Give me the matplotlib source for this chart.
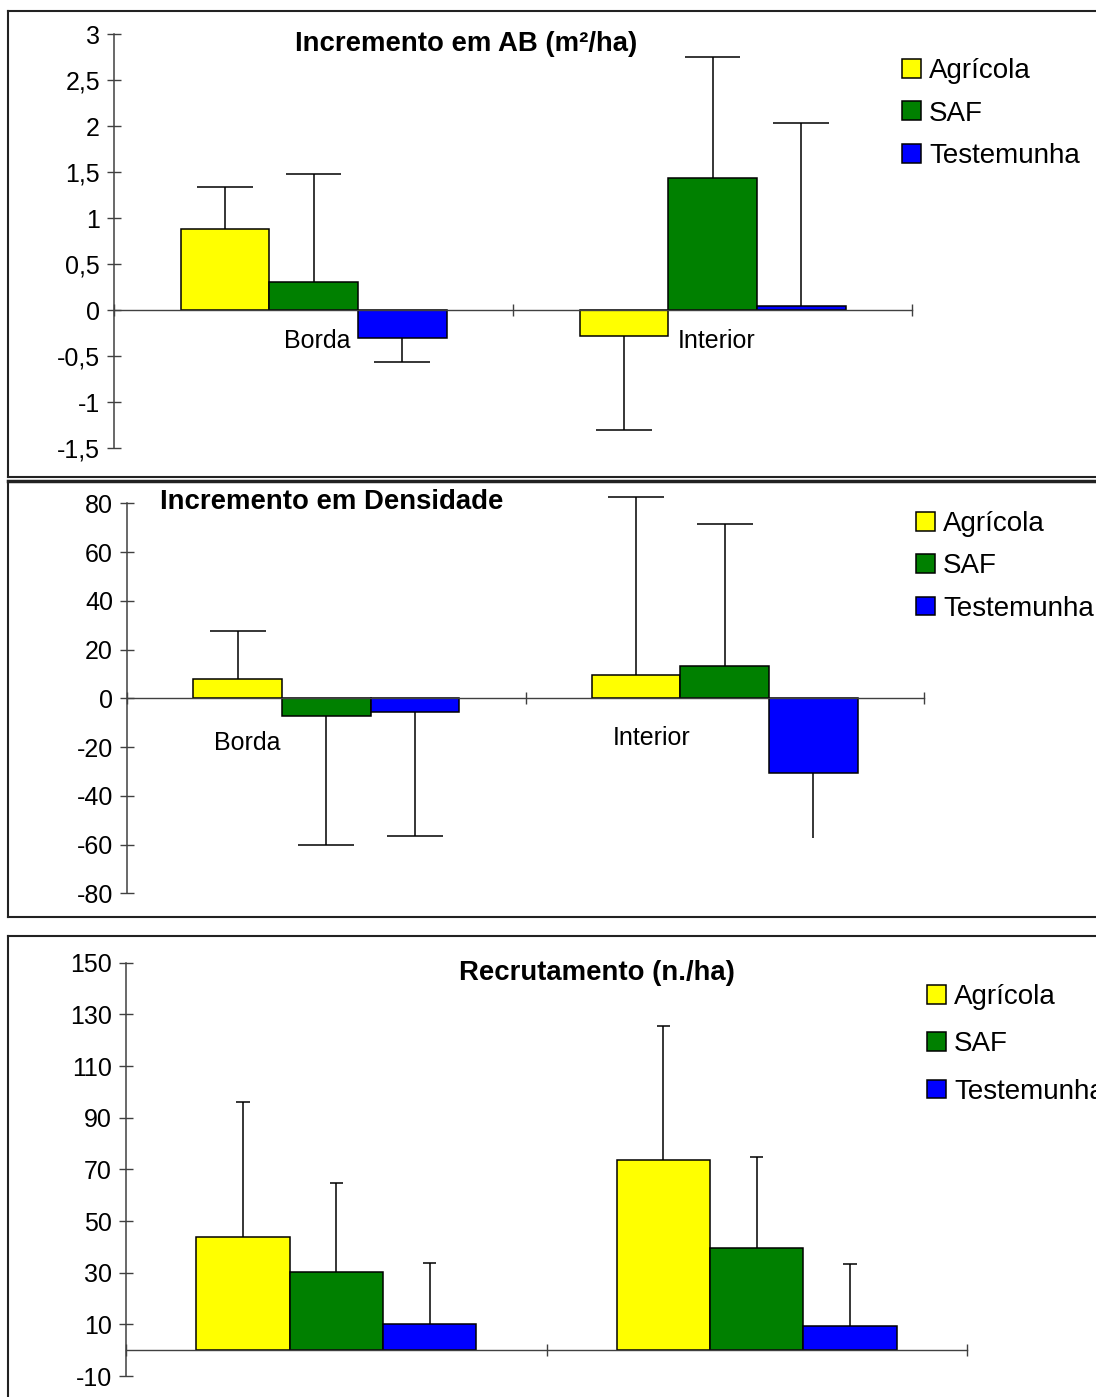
import matplotlib
matplotlib.use("Agg")
import matplotlib.pyplot as plt
from matplotlib.lines import Line2D
from matplotlib.patches import Patch
from matplotlib.ticker import FuncFormatter

plt.rcParams['font.family'] = ['Liberation Sans', 'DejaVu Sans']

W, H = 1096, 1397
DPI = 100

# dados
series = ["Agrícola", "SAF", "Testemunha"]
colors = ["#FFFF00", "#008000", "#0000FF"]
categories = ["Borda", "Interior"]

# Incremento em AB (m²/ha): [série][categoria]
ab_mean = [[0.88, -0.28], [0.30, 1.43], [-0.30, 0.04]]
ab_err = [[0.46, 1.02], [1.18, 1.32], [0.27, 1.99]]

# Incremento em Densidade
dens_mean = [[8.0, 9.7], [-7.3, 13.4], [-5.5, -30.5]]
dens_err = [[19.5, 73.0], [53.0, 58.0], [51.0, 27.0]]

# Recrutamento (n./ha)
rec_mean = [[44.0, 73.6], [30.2, 39.6], [10.1, 9.4]]
rec_err = [[52.0, 52.0], [34.4, 35.1], [23.8, 24.0]]

ab_ticks = [-1.5, -1, -0.5, 0, 0.5, 1, 1.5, 2, 2.5, 3]
dens_ticks = [-80, -60, -40, -20, 0, 20, 40, 60, 80]
rec_ticks = [-10, 10, 30, 50, 70, 90, 110, 130, 150]


def fx(px):
    return px / W


def fy(py):
    return 1 - py / H


def comma(v, pos):
    return f"{v:g}".replace(".", ",")


def frame(fig, top, bottom, lw_top=1.5):
    kw = dict(color="#222222", transform=fig.transFigure)
    fig.add_artist(Line2D([fx(8), fx(8)], [fy(top), fy(bottom)], lw=1.5, **kw))
    fig.add_artist(Line2D([fx(8), 1.0], [fy(top), fy(top)], lw=lw_top, **kw))
    if bottom < H:
        fig.add_artist(Line2D([fx(8), 1.0], [fy(bottom), fy(bottom)], lw=1.5, **kw))


def panel(fig, box, means, errs, ylim, ticks, cap_hw, title, title_xy,
          legend_xy, legend_gap, cat_xy=None, nocap=()):
    x0, x1, ytop, ybot = box
    ax = fig.add_axes([fx(x0), fy(ybot), fx(x1) - fx(x0), fy(ytop) - fy(ybot)])
    ax.set_xlim(0, 2)
    ax.set_ylim(*ylim)
    ax.patch.set_alpha(0)

    bw = 1 / 4.5
    for i, (m, e) in enumerate(zip(means, errs)):
        xs = [0.5 + (i - 1) * bw, 1.5 + (i - 1) * bw]
        ax.bar(xs, m, width=bw, color=colors[i], edgecolor="black",
               linewidth=1.1, zorder=2, label=series[i])
        for j, (x, v, err) in enumerate(zip(xs, m, e)):
            end = v + err if v >= 0 else v - err
            ax.vlines(x, v, end, color="black", lw=1.1, zorder=3, clip_on=False)
            if (i, j) not in nocap:
                ax.hlines(end, x - cap_hw, x + cap_hw, color="black", lw=1.1,
                          zorder=3, clip_on=False)

    for s in ["top", "right"]:
        ax.spines[s].set_visible(False)
    ax.spines["left"].set_color("#404040")
    ax.spines["left"].set_linewidth(1.1)
    ax.spines["bottom"].set_position(("data", 0))
    ax.spines["bottom"].set_color("#404040")
    ax.spines["bottom"].set_linewidth(1.0)
    ax.set_yticks(ticks)
    ax.yaxis.set_major_formatter(FuncFormatter(comma))
    ax.tick_params(axis="y", direction="inout", length=10, width=1,
                   color="#404040", labelsize=18, pad=5)
    ax.set_xticks([0, 1, 2])
    ax.tick_params(axis="x", direction="inout", length=9, width=1,
                   color="#404040", labelbottom=False)

    fig.text(fx(title_xy[0]), fy(title_xy[1]), title, ha="center", va="center",
             fontsize=19.8, fontweight="bold")
    if cat_xy:
        for name, (cx, cy) in zip(categories, cat_xy):
            fig.text(fx(cx), fy(cy), name, ha="center", va="center", fontsize=18)

    handles = [Patch(facecolor=c, edgecolor="black", linewidth=1.1) for c in colors]
    ax.legend(handles, series, loc="upper left",
              bbox_to_anchor=(fx(legend_xy[0]), fy(legend_xy[1])),
              bbox_transform=fig.transFigure, frameon=False, fontsize=20,
              handlelength=0.67, handleheight=0.67, handletextpad=0.3,
              labelspacing=legend_gap, borderpad=0, borderaxespad=0)
    return ax


fig = plt.figure(figsize=(W / DPI, H / DPI), dpi=DPI)

frame(fig, 11, 477)
frame(fig, 481, 917, lw_top=2.5)
frame(fig, 936, H + 10)

panel(fig, (114, 912, 34, 448), ab_mean, ab_err, (-1.5, 3), ab_ticks, 0.07,
      "Incremento em AB (m²/ha)", (466, 44), (902, 58), 0.6,
      cat_xy=[(317, 341), (717, 341)])

panel(fig, (127, 924, 503.3, 893.3), dens_mean, dens_err, (-80, 80), dens_ticks, 0.07,
      "Incremento em Densidade", (332, 502), (916, 511), 0.59,
      cat_xy=[(247, 743), (652, 738)], nocap={(2, 1)})

panel(fig, (126, 967, 962.7, 1376), rec_mean, rec_err, (-10, 150), rec_ticks, 0.016,
      "Recrutamento (n./ha)", (597, 973), (927, 984), 0.77)

fig.savefig("out.png", dpi=DPI)
